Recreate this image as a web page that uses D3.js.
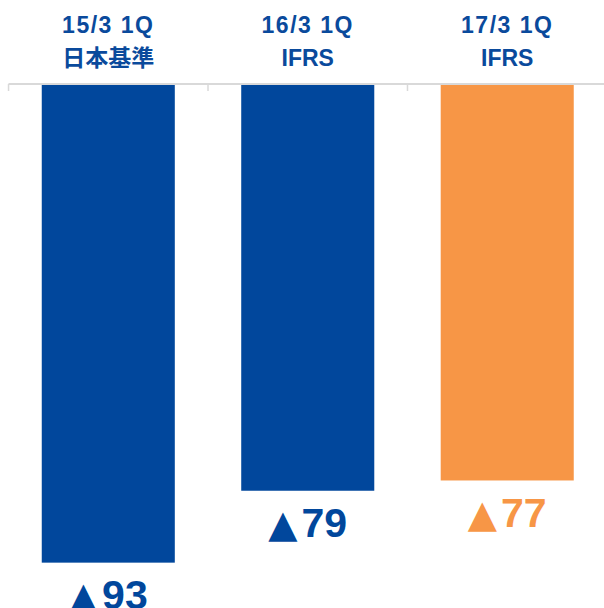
<!DOCTYPE html>
<html>
<head>
<meta charset="utf-8">
<script src="https://cdn.jsdelivr.net/npm/d3@7"></script>
<style>
  body { margin: 0; background: #fff; }
  text { font-family: "Liberation Sans", Arial, "Noto Sans CJK JP", sans-serif; font-weight: bold; }
</style>
</head>
<body>
<div id="chart"></div>
<script>
var periods = ["15/3 1Q", "16/3 1Q", "17/3 1Q"];
var standards = ["日本基準", "IFRS", "IFRS"];
var values = [-93, -79, -77];
var valueLabels = ["93", "79", "77"];
var negMark = "▲";
var colors = ["#01479c", "#01479c", "#f79646"];

var width = 604, height = 608;

var svg = d3.select("#chart").append("svg")
    .attr("width", width)
    .attr("height", height);

var xScale = d3.scaleBand()
    .domain(periods)
    .range([8.5, 607])
    .paddingInner(0.333)
    .paddingOuter(0.1667);

var yScale = d3.scaleLinear()
    .domain([0, -100])
    .range([85, 598.6]);

// bars
svg.selectAll(".bar")
    .data(values)
    .enter().append("rect")
    .attr("class", "bar")
    .attr("x", (d, i) => xScale(periods[i]))
    .attr("width", xScale.bandwidth())
    .attr("y", yScale(0))
    .attr("height", d => yScale(d) - yScale(0))
    .attr("fill", (d, i) => colors[i]);

// axis line on top with tick marks between categories
var gap = (xScale.step() - xScale.bandwidth()) / 2;
svg.append("line")
    .attr("x1", 8.5).attr("x2", width)
    .attr("y1", 84).attr("y2", 84)
    .attr("stroke", "#d9d9d9")
    .attr("stroke-width", 2);

svg.selectAll(".tick")
    .data(periods)
    .enter().append("line")
    .attr("class", "tick")
    .attr("x1", d => xScale(d) - gap)
    .attr("x2", d => xScale(d) - gap)
    .attr("y1", 84).attr("y2", 91)
    .attr("stroke", "#d9d9d9")
    .attr("stroke-width", 1.5);

// category headers
var header = svg.selectAll(".header")
    .data(periods)
    .enter().append("text")
    .attr("class", "header")
    .attr("text-anchor", "middle")
    .attr("fill", "#0a4a9c")
    .style("font-size", "23px");

header.append("tspan")
    .attr("x", d => xScale(d) + xScale.bandwidth() / 2)
    .attr("y", 33)
    .style("letter-spacing", "1.5px")
    .text(d => d);

header.append("tspan")
    .attr("x", d => xScale(d) + xScale.bandwidth() / 2)
    .attr("y", 66)
    .text((d, i) => standards[i]);

// value labels under each bar (▲ = negative)
var valueText = svg.selectAll(".value")
    .data(values)
    .enter().append("text")
    .attr("class", "value")
    .attr("text-anchor", "middle")
    .attr("x", (d, i) => xScale(periods[i]) + xScale.bandwidth() / 2)
    .attr("y", d => yScale(d) + 46.5)
    .attr("fill", (d, i) => colors[i])
    .style("font-size", "41px");

valueText.append("tspan")
    .style("font-family", "'DejaVu Sans', sans-serif")
    .style("font-weight", "normal")
    .style("font-size", "38px")
    .text(negMark);

valueText.append("tspan")
    .attr("dx", 4)
    .text((d, i) => valueLabels[i]);
</script>
</body>
</html>
